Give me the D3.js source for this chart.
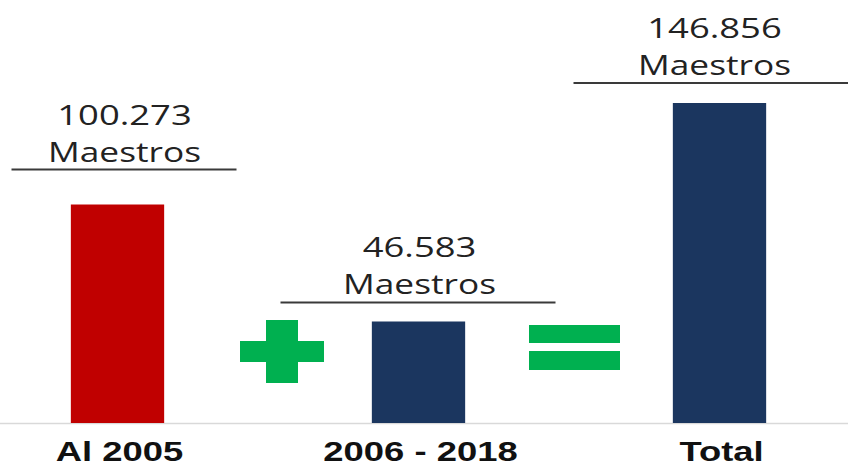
<!DOCTYPE html>
<html>
<head>
<meta charset="utf-8">
<script src="https://cdn.jsdelivr.net/npm/d3@7"></script>
<style>
  body { margin: 0; background: #fff; }
  svg { display: block; }
</style>
</head>
<body>
<svg></svg>
<script>
const width = 848;
const height = 467;

const categories = ["Al 2005", "2006 - 2018", "Total"];
const values = [100273, 46583, 146856];
const valueLabels = ["100.273", "46.583", "146.856"];
const unitLabel = "Maestros";
const barColors = ["#c00000", "#1b365f", "#1b365f"];
const signColor = "#00b050";

const baseline = 423;

// label layout per bar (offsets from bar centre)
const notes = [
    { gap: 35, x0: -106, x1: 119, tx: 7 },
    { gap: 19, x0: -138, x1: 137, tx: 1 },
    { gap: 20, x0: -146, x1: 146, tx: -5 }
];

const xScale = d3.scaleBand()
    .domain(categories)
    .range([-33, 870])
    .paddingInner(0.69)
    .paddingOuter(0.345);

const yScale = d3.scaleLinear()
    .domain([0, d3.max(values)])
    .range([baseline, 103]);

const svg = d3.select("svg")
    .attr("width", width)
    .attr("height", height);

// baseline
svg.append("line")
    .attr("x1", 0)
    .attr("x2", width)
    .attr("y1", baseline + 0.5)
    .attr("y2", baseline + 0.5)
    .attr("stroke", "#d9d9d9")
    .attr("stroke-width", 1.5);

svg.selectAll("rect.bar")
    .data(values)
    .enter()
    .append("rect")
        .attr("class", "bar")
        .attr("x", (d, i) => xScale(categories[i]))
        .attr("y", d => yScale(d))
        .attr("width", xScale.bandwidth())
        .attr("height", d => baseline - yScale(d))
        .attr("fill", (d, i) => barColors[i]);

const cx = i => xScale(categories[i]) + xScale.bandwidth() / 2;

// annotation: value, unit, underline
const ann = svg.selectAll("g.ann")
    .data(values)
    .enter()
    .append("g")
        .attr("class", "ann");

ann.append("line")
    .attr("x1", (d, i) => cx(i) + notes[i].x0)
    .attr("x2", (d, i) => cx(i) + notes[i].x1)
    .attr("y1", (d, i) => yScale(d) - notes[i].gap)
    .attr("y2", (d, i) => yScale(d) - notes[i].gap)
    .attr("stroke", "#3a3a3a")
    .attr("stroke-width", 2);

ann.append("text")
    .attr("transform", (d, i) => "translate(" + (cx(i) + notes[i].tx) + "," + (yScale(d) - notes[i].gap - 45) + ") scale(1.3,1)")
    .style("text-anchor", "middle")
    .style("font-family", "'Open Sans', sans-serif")
    .style("font-size", "28px")
    .attr("fill", "#222")
    .text((d, i) => valueLabels[i]);

ann.append("text")
    .attr("transform", (d, i) => "translate(" + (cx(i) + notes[i].tx) + "," + (yScale(d) - notes[i].gap - 8) + ") scale(1.26,1)")
    .style("text-anchor", "middle")
    .style("font-family", "'Open Sans', sans-serif")
    .style("font-size", "28px")
    .attr("fill", "#222")
    .text(unitLabel);

// category labels
svg.selectAll("text.cat")
    .data(categories)
    .enter()
    .append("text")
        .attr("class", "cat")
        .attr("transform", (d, i) => "translate(" + (cx(i) + 2) + ",461) scale(1.3,1)")
        .style("text-anchor", "middle")
        .style("font-family", "'Liberation Sans', Arial, sans-serif")
        .style("font-weight", "bold")
        .style("font-size", "28px")
        .attr("fill", "#111")
        .text(d => d);

// plus sign between first and second bar
const plusX = (cx(0) + cx(1)) / 2 + 14;
const plusY = 351;
const plus = svg.append("g").attr("fill", signColor);
plus.append("rect")
    .attr("x", plusX - 42).attr("y", plusY - 10)
    .attr("width", 84).attr("height", 21);
plus.append("rect")
    .attr("x", plusX - 16).attr("y", plusY - 31)
    .attr("width", 32).attr("height", 63);

// equals sign between second and third bar
const eqX = (cx(1) + cx(2)) / 2 + 5;
const eq = svg.append("g").attr("fill", signColor);
eq.append("rect")
    .attr("x", eqX - 45).attr("y", 325)
    .attr("width", 91).attr("height", 18);
eq.append("rect")
    .attr("x", eqX - 45).attr("y", 351)
    .attr("width", 91).attr("height", 19);
</script>
</body>
</html>
